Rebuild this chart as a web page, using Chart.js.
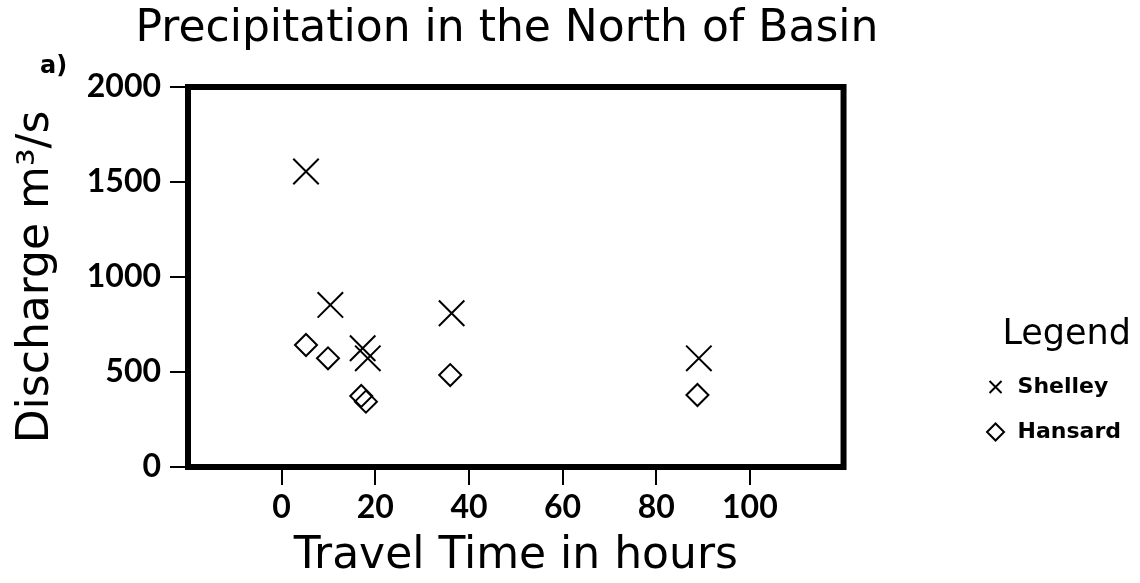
<!DOCTYPE html>
<html>
<head>
<meta charset="utf-8">
<script src="https://cdn.jsdelivr.net/npm/chart.js@4.4.1/dist/chart.umd.min.js"></script>
<style>
html, body { margin: 0; padding: 0; background: #ffffff; }
#wrap { width: 1140px; height: 583px; position: relative; }
</style>
</head>
<body>
<div id="wrap"><canvas id="c"></canvas></div>
<script>
// ---- data ----
const chartTitle = 'Precipitation in the North of Basin';
const panelLabel = 'a)';
const xAxisTitle = 'Travel Time in hours';
const yAxisTitle = 'Discharge m³/s';
const legendTitle = 'Legend';
const seriesNames = ['Shelley', 'Hansard'];
const shelleyTravelTime = [5.2, 10.4, 17.3, 18.4, 36.3, 89.1];
const shelleyDischarge  = [1555, 853, 625, 572, 809, 572];
const hansardTravelTime = [5.2, 9.9, 17.0, 18.0, 36.0, 88.8];
const hansardDischarge  = [642, 572, 374, 344, 484, 379];
const xTickValues = [0, 20, 40, 60, 80, 100];
const yTickValues = [0, 500, 1000, 1500, 2000];

const toPoints = (xs, ys) => xs.map((x, i) => ({ x: x, y: ys[i] }));

// layout constants (pixels)
const LEFT_SHIFT = 117;   // negative left padding so the page title is centred where the original is

const framePlugin = {
  id: 'frame',
  beforeDatasetsDraw(chart) {
    const a = chart.chartArea, ctx = chart.ctx;
    ctx.save();
    ctx.strokeStyle = '#000';
    ctx.lineWidth = 6;
    ctx.strokeRect(a.left, a.top, a.right - a.left, a.bottom - a.top);
    ctx.restore();
  }
};
const panelLabelPlugin = {
  id: 'panelLabel',
  afterDraw(chart) {
    const ctx = chart.ctx;
    ctx.save();
    ctx.fillStyle = '#000';
    ctx.font = 'bold 24px "DejaVu Sans"';
    ctx.textBaseline = 'middle';
    ctx.textAlign = 'left';
    ctx.fillText(panelLabel, chart.chartArea.left - 148, chart.chartArea.top - 20);
    ctx.restore();
  }
};

new Chart(document.getElementById('c'), {
  type: 'scatter',
  data: {
    datasets: [
      {
        label: seriesNames[0],
        data: toPoints(shelleyTravelTime, shelleyDischarge),
        pointStyle: 'crossRot',
        pointRadius: 18,
        borderColor: '#000',
        backgroundColor: '#000',
        borderWidth: 2
      },
      {
        label: seriesNames[1],
        data: toPoints(hansardTravelTime, hansardDischarge),
        pointStyle: 'rectRot',
        pointRadius: 11,
        borderColor: '#000',
        backgroundColor: 'rgba(255,255,255,0)',
        borderWidth: 2
      }
    ]
  },
  options: {
    responsive: true,
    maintainAspectRatio: false,
    animation: false,
    layout: { padding: { left: -LEFT_SHIFT, right: 9, top: 0, bottom: 0 } },
    scales: {
      x: {
        type: 'linear',
        min: -20, max: 120,
        grid: { display: true, drawOnChartArea: false, drawTicks: true, tickLength: 18, lineWidth: 2, color: '#000' },
        border: { display: false },
        ticks: {
          stepSize: 20, padding: 3, color: '#000',
          font: { family: 'Lato', size: 32, weight: 'bold' },
          callback: v => xTickValues.includes(v) ? String(v) : null
        },
        title: { display: true, text: xAxisTitle, color: '#000', font: { family: 'DejaVu Sans', size: 44, weight: 'normal' }, padding: { top: 0, bottom: 0 } },
        afterFit(s) { s.height = 116; }
      },
      y: {
        type: 'linear',
        min: 0, max: 2000,
        grid: { display: true, drawOnChartArea: false, drawTicks: true, tickLength: 18, lineWidth: 2, color: '#000' },
        border: { display: false },
        ticks: {
          stepSize: 500, padding: 9, color: '#000',
          font: { family: 'Lato', size: 32, weight: 'bold' },
          callback: v => yTickValues.includes(v) ? String(v) : null
        },
        title: { display: true, text: yAxisTitle, color: '#000', font: { family: 'DejaVu Sans', size: 44, weight: 'normal' }, padding: { top: 10 + LEFT_SHIFT, bottom: 0 } },
        afterFit(s) { s.width = 188 + LEFT_SHIFT; }
      },
      y2: {
        type: 'linear',
        position: 'right',
        display: true,
        grid: { display: false },
        border: { display: false },
        ticks: { display: false },
        afterFit(s) { s.width = 118; }
      }
    },
    plugins: {
      tooltip: { enabled: false },
      title: {
        display: true, text: chartTitle, color: '#000',
        font: { family: 'DejaVu Sans', size: 44, weight: 'normal' },
        padding: { top: 3.6, bottom: 30.6 }
      },
      legend: {
        position: 'right',
        align: 'start',
        title: {
          display: true, text: legendTitle, position: 'end', color: '#000',
          font: { family: 'DejaVu Sans', size: 35, weight: 'normal', lineHeight: 1 },
          padding: { top: 317.5, bottom: 0.5 }
        },
        labels: {
          usePointStyle: true, boxWidth: 22, boxHeight: 12, padding: 23, color: '#000',
          font: { family: 'DejaVu Sans', size: 22, weight: 'bold' }
        }
      }
    }
  },
  plugins: [framePlugin, panelLabelPlugin]
});
</script>
</body>
</html>
